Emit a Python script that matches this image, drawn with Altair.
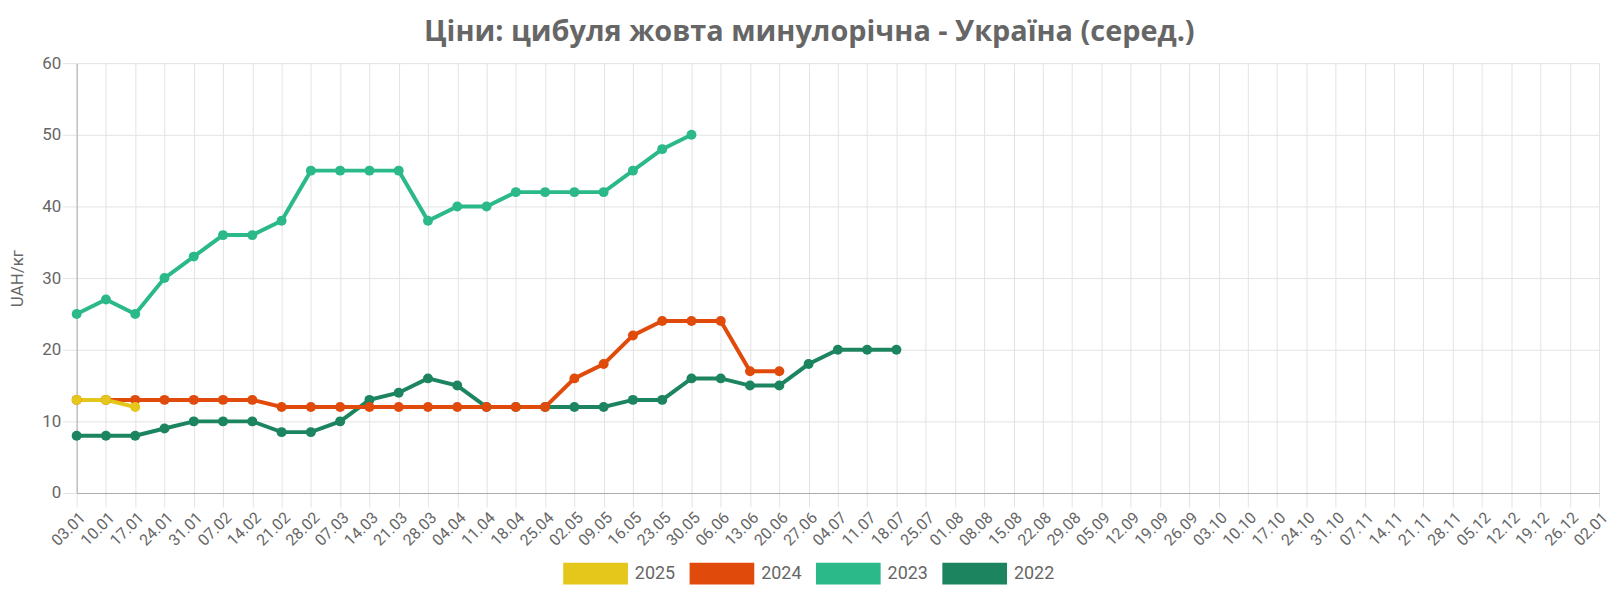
import altair as alt
import pandas as pd

weeks = ["03.01", "10.01", "17.01", "24.01", "31.01", "07.02", "14.02", "21.02",
         "28.02", "07.03", "14.03", "21.03", "28.03", "04.04", "11.04", "18.04",
         "25.04", "02.05", "09.05", "16.05", "23.05", "30.05", "06.06", "13.06",
         "20.06", "27.06", "04.07", "11.07", "18.07", "25.07", "01.08", "08.08",
         "15.08", "22.08", "29.08", "05.09", "12.09", "19.09", "26.09", "03.10",
         "10.10", "17.10", "24.10", "31.10", "07.11", "14.11", "21.11", "28.11",
         "05.12", "12.12", "19.12", "26.12", "02.01"]

years = ["2025", "2024", "2023", "2022"]
colors = ["#E5C61A", "#E04A0A", "#2BB98A", "#1C8560"]

prices_2025 = [13, 13, 12]
prices_2024 = [13, 13, 13, 13, 13, 13, 13, 12, 12, 12, 12, 12, 12, 12, 12, 12,
               12, 16, 18, 22, 24, 24, 24, 17, 17]
prices_2023 = [25, 27, 25, 30, 33, 36, 36, 38, 45, 45, 45, 45, 38, 40, 40, 42,
               42, 42, 42, 45, 48, 50]
prices_2022 = [8, 8, 8, 9, 10, 10, 10, 8.5, 8.5, 10, 13, 14, 16, 15, 12, 12,
               12, 12, 12, 13, 13, 16, 16, 15, 15, 18, 20, 20, 20]

# oldest year first so the newest one is drawn on top
rows = []
all_series = [prices_2025, prices_2024, prices_2023, prices_2022]
for year, series in reversed(list(zip(years, all_series))):
    for week, price in zip(weeks, series):
        rows.append({"week": week, "year": year, "price": price})
df = pd.DataFrame(rows)

x = alt.X("week:N", sort=weeks, scale=alt.Scale(domain=weeks, padding=0),
          title=None,
          axis=alt.Axis(labelAngle=-45, labelFontSize=16, labelColor="#666666",
                        labelFont="Roboto", labelPadding=2, tickSize=14,
                        labelOverlap=False, grid=True, gridColor="#e3e3e3",
                        domainColor="#aaaaaa", tickColor="#e3e3e3"))
y = alt.Y("price:Q", scale=alt.Scale(domain=[0, 60]), title="UAH/кг",
          axis=alt.Axis(values=[0, 10, 20, 30, 40, 50, 60], labelFontSize=17,
                        labelColor="#666666", labelFont="Roboto", labelPadding=2,
                        titleFont="Roboto", titleFontSize=17, titleColor="#666666",
                        titleFontWeight="normal", titlePadding=15.5,
                        gridColor="#e3e3e3", domainColor="#aaaaaa",
                        tickColor="#e3e3e3", tickSize=14))
year_scale = alt.Scale(domain=years, range=colors)
# wide flat swatch: left edge on the symbol box, running 65px to the right
color = alt.Color("year:N", scale=year_scale,
                  legend=alt.Legend(orient="none", legendX=489, legendY=502,
                                    title=None, direction="horizontal",
                                    symbolType="M-1,-1L4.91,-1L4.91,1L-1,1Z",
                                    symbolSize=484, symbolStrokeWidth=0,
                                    symbolOpacity=1, labelFontSize=18,
                                    labelFont="Roboto", labelColor="#666666",
                                    columnPadding=14, labelOffset=50))

base = alt.Chart(df).encode(x=x, y=y)
lines = base.mark_line(strokeWidth=4).encode(
    color=alt.Color("year:N", scale=year_scale, legend=None),
    detail="year:N")
points = base.mark_circle(size=100, opacity=1).encode(color=color)

chart = alt.layer(lines, points).resolve_legend(color="independent").properties(
    width=1530,
    height=432,
    title=alt.TitleParams("Ціни: цибуля жовта минулорічна - Україна (серед.)",
                          font="Open Sans", fontSize=29, fontWeight="bold",
                          color="#666666", offset=7, frame="bounds"),
    padding={"left": 0, "top": 9, "right": 1, "bottom": 0},
).configure_view(stroke=None)

chart.save("out.html", embed_options={"renderer": "svg", "actions": False})
